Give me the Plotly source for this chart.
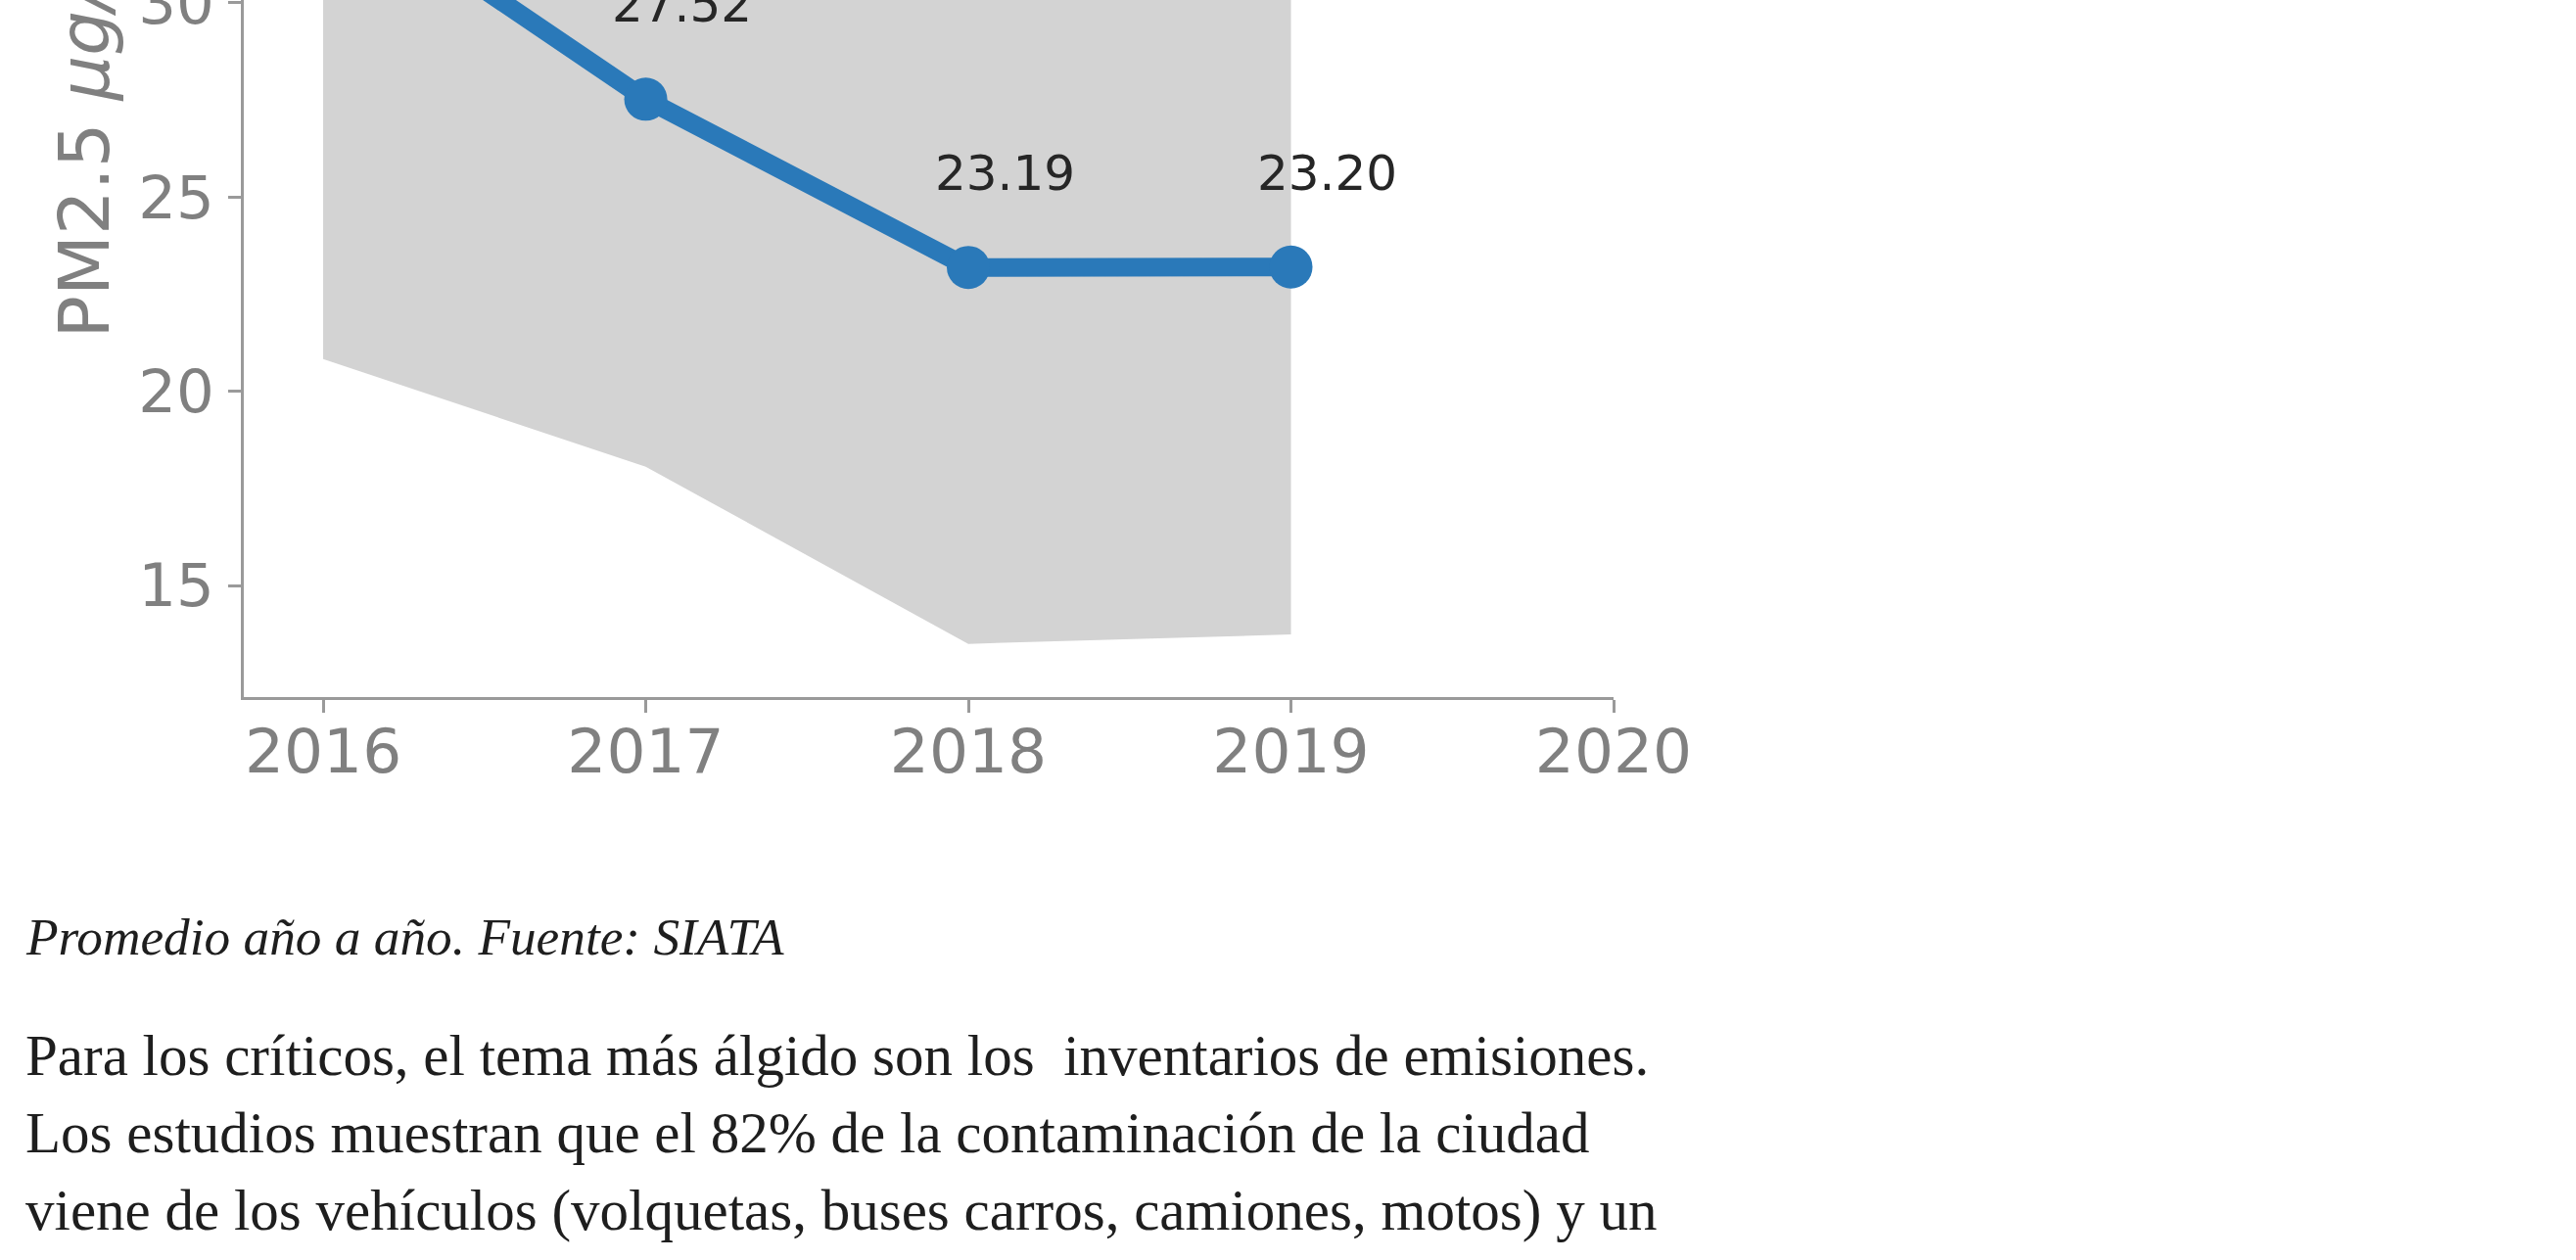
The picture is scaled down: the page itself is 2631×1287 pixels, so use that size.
import plotly.graph_objects as go

# ---------------- data ----------------
years = [2016, 2017, 2018, 2019]
pm25_mean = [33.15, 27.52, 23.19, 23.20]
band_low = [20.83, 18.06, 13.50, 13.74]
band_high = [45.0, 38.0, 33.5, 33.0]
x_tick_vals = [2016, 2017, 2018, 2019, 2020]
y_tick_vals = [15, 20, 25, 30]
y_title = "PM2.5 <i>μg/m</i><sup>3</sup>"
caption = "Promedio año a año. Fuente: SIATA"
paragraph = [
    "Para los críticos, el tema más álgido son los \u00a0inventarios de emisiones.",
    "Los estudios muestran que el 82% de la contaminación de la ciudad",
    "viene de los vehículos (volquetas, buses carros, camiones, motos) y un",
]

# ---------------- layout geometry (pixels) ----------------
W, H = 2631, 1287
L, R, T, B = 249, 1648, 0, 712


def pxx(px):
    return (px - L) / (R - L)


def pxy(py):
    return (B - py) / (B - T)


BLUE = "#2a79b9"
GRAY_FILL = "#d3d3d3"
AX_GRAY = "#9a9a9a"
TXT_GRAY = "#808080"

fig = go.Figure()

fig.add_trace(go.Scatter(
    x=years, y=band_low, mode="lines", line=dict(width=0, color=GRAY_FILL),
    hoverinfo="skip", showlegend=False))
fig.add_trace(go.Scatter(
    x=years, y=band_high, mode="lines", line=dict(width=0, color=GRAY_FILL),
    fill="tonexty", fillcolor=GRAY_FILL, hoverinfo="skip", showlegend=False))
fig.add_trace(go.Scatter(
    x=years, y=pm25_mean, mode="lines+markers",
    line=dict(width=19, color=BLUE),
    marker=dict(size=44, color=BLUE),
    showlegend=False))

annotations = []
# value labels
for xv, yv in zip(years, pm25_mean):
    annotations.append(dict(
        x=xv, y=yv, xref="x", yref="y", text=f"{yv:.2f}", showarrow=False,
        xanchor="center", yanchor="bottom", xshift=37, yshift=65,
        font=dict(family="DejaVu Sans", size=50, color="#262626")))

# y-axis title (partly cut by top edge)
annotations.append(dict(
    x=pxx(80), y=pxy(348), xref="paper", yref="paper", text=y_title,
    showarrow=False, textangle=-90, xanchor="center", yanchor="bottom",
    font=dict(family="DejaVu Sans", size=72, color=TXT_GRAY)))

# caption
cap_fs = 53.3
annotations.append(dict(
    x=pxx(24), y=pxy(974 - 1 - 0.891 * cap_fs), xref="paper", yref="paper",
    text=f"<i>{caption}</i>", showarrow=False, xanchor="left", yanchor="top",
    font=dict(family="Liberation Serif", size=cap_fs, color="#1e1e1e")))

# paragraph lines
par_fs = 59
baselines = [1097, 1176, 1255]
for line, bl in zip(paragraph, baselines):
    annotations.append(dict(
        x=pxx(24), y=pxy(bl - 1 - 0.891 * par_fs), xref="paper", yref="paper",
        text=line, showarrow=False, xanchor="left", yanchor="top",
        font=dict(family="Liberation Serif", size=par_fs, color="#1e1e1e")))

fig.update_layout(
    width=W, height=H, autosize=False,
    margin=dict(l=L, r=W - R, t=T, b=H - B, pad=0),
    paper_bgcolor="white", plot_bgcolor="white",
    showlegend=False,
    annotations=annotations,
    xaxis=dict(
        range=[2015.754, 2020], tickvals=x_tick_vals,
        ticktext=[str(v) for v in x_tick_vals],
        showgrid=False, zeroline=False, showline=True, linecolor=AX_GRAY,
        linewidth=3, ticks="outside", ticklen=13, tickwidth=2.5,
        tickcolor=AX_GRAY, automargin=False, ticklabelstandoff=-15,
        tickfont=dict(family="DejaVu Sans", size=63, color=TXT_GRAY)),
    yaxis=dict(
        range=[12.13, 30.075], tickvals=y_tick_vals,
        ticktext=[str(v) for v in y_tick_vals],
        showgrid=False, zeroline=False, showline=True, linecolor=AX_GRAY,
        linewidth=3, ticks="outside", ticklen=13, tickwidth=2.5,
        tickcolor=AX_GRAY, automargin=False, ticklabelstandoff=2,
        ticklabeloverflow="allow",
        tickfont=dict(family="DejaVu Sans", size=61, color=TXT_GRAY)),
)

fig.write_html("out.html", config={"displayModeBar": False})
